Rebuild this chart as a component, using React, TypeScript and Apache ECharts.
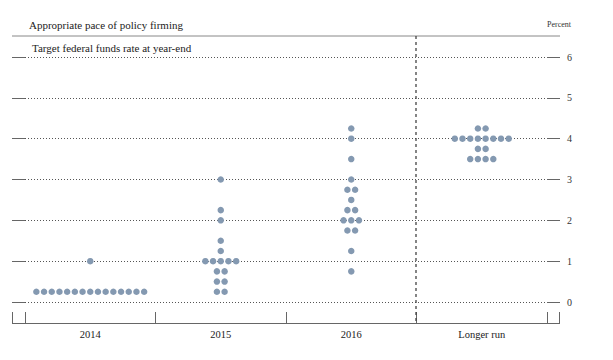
import React, { useEffect, useRef } from "react";
import * as echarts from "echarts";

const categories = ["2014", "2015", "2016", "Longer run"];
// [rate, number of participants]
const dots2014 = [[0.25, 15], [1.0, 1]];
const dots2015 = [[0.25, 2], [0.5, 2], [0.75, 2], [1.0, 5], [1.25, 1], [1.5, 1], [2.0, 1], [2.25, 1], [3.0, 1]];
const dots2016 = [[0.75, 1], [1.25, 1], [1.75, 2], [2.0, 3], [2.25, 2], [2.5, 1], [2.75, 2], [3.0, 1], [3.5, 1], [4.0, 1], [4.25, 1]];
const dotsLongerRun = [[3.5, 4], [3.75, 2], [4.0, 8], [4.25, 2]];
const yTicks = [0, 1, 2, 3, 4, 5, 6];

const titleText = "Appropriate pace of policy firming";
const subtitleText = "Target federal funds rate at year-end";
const unitText = "Percent";

const SERIF = "'Liberation Serif', 'DejaVu Serif', serif";
const DOT_COLOR = "#8499b1";
const DOT_GAP = 7.7;

export default function App() {
  const ref = useRef<HTMLDivElement>(null);
  useEffect(() => {
    if (!ref.current) return;
    const chart = echarts.init(ref.current, null, { renderer: "svg" });
    const groups = [dots2014, dots2015, dots2016, dotsLongerRun];
    const data: any[] = [];
    groups.forEach((g, ci) => {
      g.forEach(([v, n]) => {
        for (let i = 0; i < n; i++) {
          data.push({
            value: [categories[ci], v],
            symbolOffset: [(i - (n - 1) / 2) * DOT_GAP, 0],
          });
        }
      });
    });
    const axisGray = "#666";
    chart.setOption({
      animation: false,
      backgroundColor: "#fff",
      grid: { left: 25, right: 66, top: 57, bottom: 58 },
      xAxis: {
        type: "category",
        data: categories,
        offset: 21,
        boundaryGap: true,
        axisLine: { show: true, onZero: false, lineStyle: { color: axisGray, width: 1 } },
        axisTick: { show: true, inside: true, length: 11, lineStyle: { color: axisGray } },
        axisLabel: { margin: 6, fontSize: 10.5, color: "#222", fontFamily: SERIF },
        splitLine: { show: false },
      },
      yAxis: [
        {
          type: "value",
          position: "right",
          min: 0,
          max: 6,
          interval: 1,
          axisLine: { show: false },
          axisTick: { show: true, length: 13, lineStyle: { color: axisGray } },
          axisLabel: {
            margin: 20,
            fontSize: 10,
            color: "#333",
            fontFamily: SERIF,
            formatter: (v: number) => (yTicks.includes(v) ? String(v) : ""),
          },
          splitLine: { show: true, lineStyle: { type: [1, 2], color: "#555", width: 1 } },
        },
        {
          type: "value",
          position: "left",
          min: 0,
          max: 6,
          interval: 1,
          axisLine: { show: false },
          axisTick: { show: true, length: 13, lineStyle: { color: axisGray } },
          axisLabel: { show: false },
          splitLine: { show: false },
        },
      ],
      series: [
        {
          type: "scatter",
          yAxisIndex: 0,
          symbol: "circle",
          symbolSize: 6.5,
          itemStyle: { color: DOT_COLOR, opacity: 1 },
          data,
          z: 5,
        },
      ],
      graphic: [
        { type: "text", left: 29, top: 19, style: { text: titleText, font: `11px ${SERIF}`, fill: "#222" } },
        { type: "text", left: 32, top: 42, style: { text: subtitleText, font: `11px ${SERIF}`, fill: "#222" } },
        { type: "text", left: 547, top: 20, style: { text: unitText, font: `8px ${SERIF}`, fill: "#333" } },
        { type: "line", shape: { x1: 12, y1: 36, x2: 560, y2: 36 }, style: { stroke: "#888", lineWidth: 1 } },
        { type: "line", shape: { x1: 416, y1: 36, x2: 416, y2: 323 }, style: { stroke: "#444", lineWidth: 1.3, lineDash: [3, 3] }, z: 10 },
        { type: "line", shape: { x1: 12, y1: 323.5, x2: 25, y2: 323.5 }, style: { stroke: axisGray, lineWidth: 1 } },
        { type: "line", shape: { x1: 547, y1: 323.5, x2: 560, y2: 323.5 }, style: { stroke: axisGray, lineWidth: 1 } },
        { type: "line", shape: { x1: 12.5, y1: 312, x2: 12.5, y2: 324 }, style: { stroke: axisGray, lineWidth: 1 } },
        { type: "line", shape: { x1: 559.5, y1: 312, x2: 559.5, y2: 324 }, style: { stroke: axisGray, lineWidth: 1 } },
      ],
    });
    return () => chart.dispose();
  }, []);
  return <div ref={ref} style={{ position: "fixed", left: 0, top: 0, width: 613, height: 360 }} />;
}
